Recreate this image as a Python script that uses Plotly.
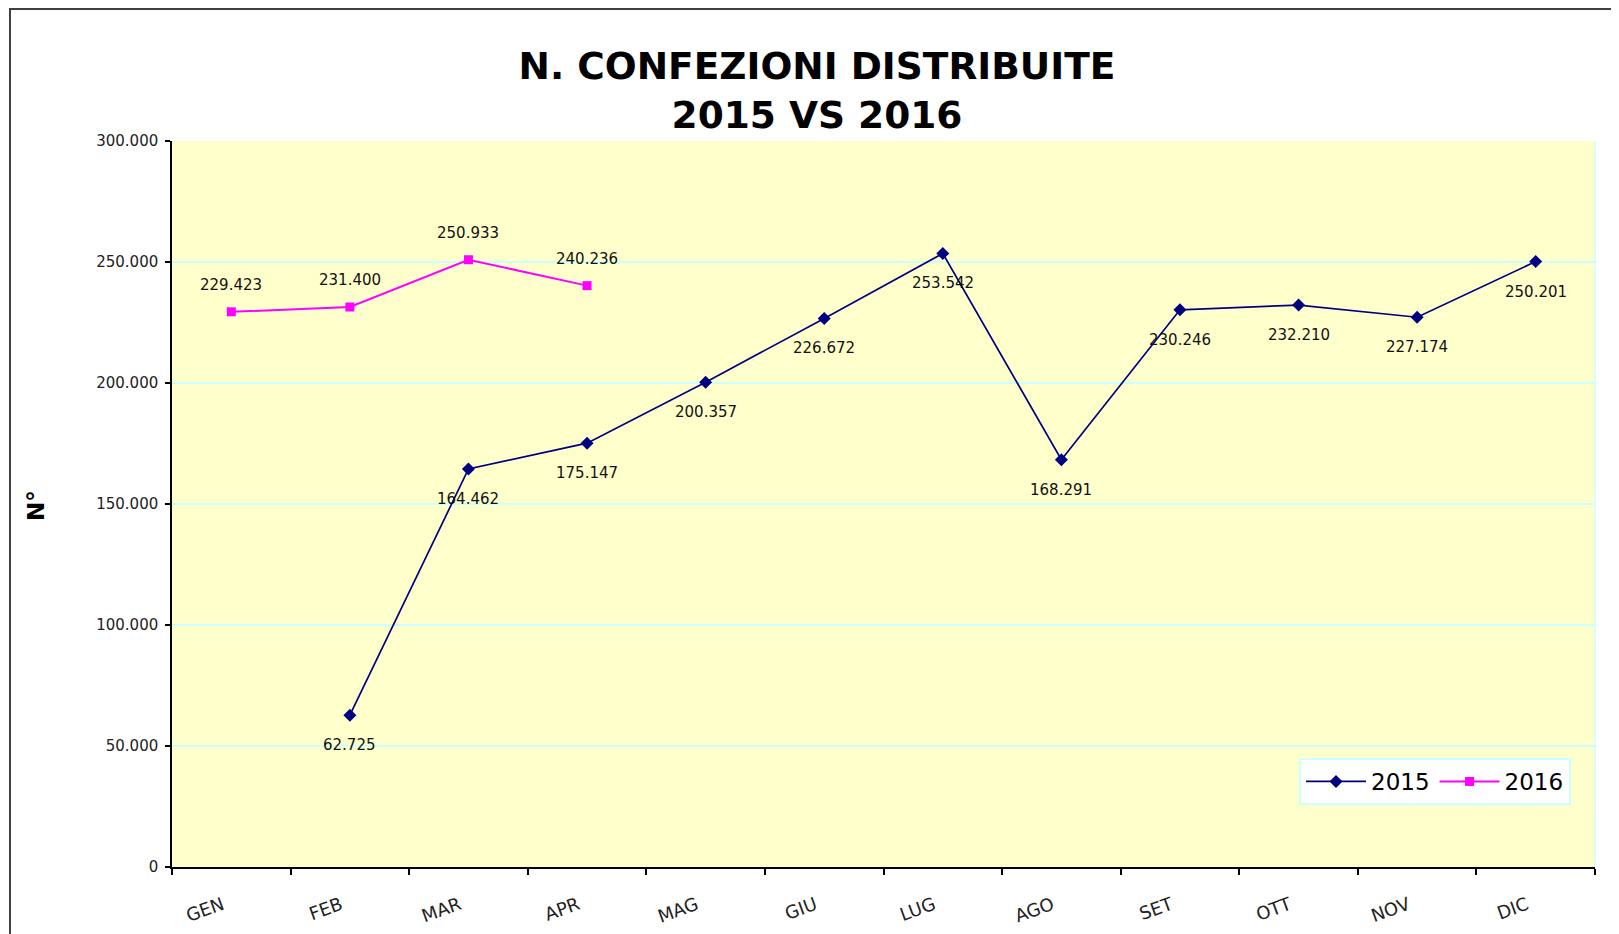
import plotly.graph_objects as go

months = ["GEN", "FEB", "MAR", "APR", "MAG", "GIU", "LUG", "AGO", "SET", "OTT", "NOV", "DIC"]
values_2015 = [None, 62725, 164462, 175147, 200357, 226672, 253542, 168291, 230246, 232210, 227174, 250201]
values_2016 = [229423, 231400, 250933, 240236, None, None, None, None, None, None, None, None]
y_ticks = [0, 50000, 100000, 150000, 200000, 250000, 300000]

W, H = 1619, 934
O = 8  # page body offset
L, R, T, B = 172 - O, 24 + O, 141 - O, 67 + O
pw, ph = W - L - R, H - T - B

def px_x(px):
    return (px - O - L) / pw

def px_y(py):
    return (H - B - (py - O)) / ph

def fmt(v):
    return f"{v:,}".replace(",", ".")

fig = go.Figure()
fig.add_trace(go.Scatter(
    x=months, y=values_2015, name="2015", mode="lines+markers",
    line=dict(color="#000080", width=1.7),
    marker=dict(symbol="diamond", size=10, color="#000080"),
))
fig.add_trace(go.Scatter(
    x=months, y=values_2016, name="2016", mode="lines+markers",
    line=dict(color="#ff00ff", width=2),
    marker=dict(symbol="square", size=9, color="#ff00ff"),
))

annotations = []
for m, v in zip(months, values_2015):
    if v is not None:
        annotations.append(dict(x=m, y=v, xref="x", yref="y", text=fmt(v), showarrow=False,
                                yshift=-30, font=dict(family="DejaVu Sans", size=15, color="#111")))
for m, v in zip(months, values_2016):
    if v is not None:
        annotations.append(dict(x=m, y=v, xref="x", yref="y", text=fmt(v), showarrow=False,
                                yshift=27, font=dict(family="DejaVu Sans", size=15, color="#111")))
annotations.append(dict(x=px_x(36), y=px_y(506), xref="paper", yref="paper", text="<b>N°</b>",
                        textangle=-90, showarrow=False, xanchor="center", yanchor="middle",
                        font=dict(family="DejaVu Sans", size=23, color="#000")))

shapes = [
    dict(type="rect", xref="paper", yref="paper",
         x0=px_x(10), x1=px_x(1640), y0=px_y(950), y1=px_y(9),
         line=dict(color="#404040", width=2), fillcolor="rgba(0,0,0,0)", layer="below"),
    dict(type="line", xref="paper", yref="paper", x0=1, x1=1, y0=0, y1=1,
         line=dict(color="#ccffff", width=1.5)),
]

fig.update_layout(
    width=W, height=H,
    margin=dict(l=L, r=R, t=T, b=B),
    paper_bgcolor="white",
    plot_bgcolor="#ffffcc",
    separators=",.",
    title=dict(text="<b>N. CONFEZIONI DISTRIBUITE<br>2015 VS 2016</b>",
               x=(817 - O) / W, xanchor="center", y=1 - 71 / H, yanchor="middle",
               font=dict(family="DejaVu Sans", size=37.5, color="#000")),
    xaxis=dict(type="category", categoryorder="array", categoryarray=months,
               tickson="boundaries", ticks="outside", ticklen=6, tickcolor="#000", tickwidth=1.5,
               showline=True, linecolor="#000", linewidth=1.5, showgrid=False,
               tickangle=-20, ticklabelstandoff=19, ticklabelshift=-9,
               tickfont=dict(family="DejaVu Sans", size=18, color="#222"),
               range=[-0.5, 11.5]),
    yaxis=dict(range=[0, 300000], tickvals=y_ticks, tickformat=",.0f",
               ticks="outside", ticklen=5, tickcolor="#000", tickwidth=1.5,
               showline=True, linecolor="#000", linewidth=1.5,
               gridcolor="#ccffff", gridwidth=1.5, zeroline=False, ticklabelstandoff=4,
               tickfont=dict(family="DejaVu Sans", size=15, color="#222")),
    legend=dict(orientation="h", x=px_x(1571), xanchor="right", y=px_y(805), yanchor="bottom",
                bgcolor="white", bordercolor="#ccffff", borderwidth=2,
                font=dict(family="DejaVu Sans", size=23, color="#000"),
                itemwidth=60),
    annotations=annotations,
    shapes=shapes,
    showlegend=True,
)

fig.write_html("out.html")
